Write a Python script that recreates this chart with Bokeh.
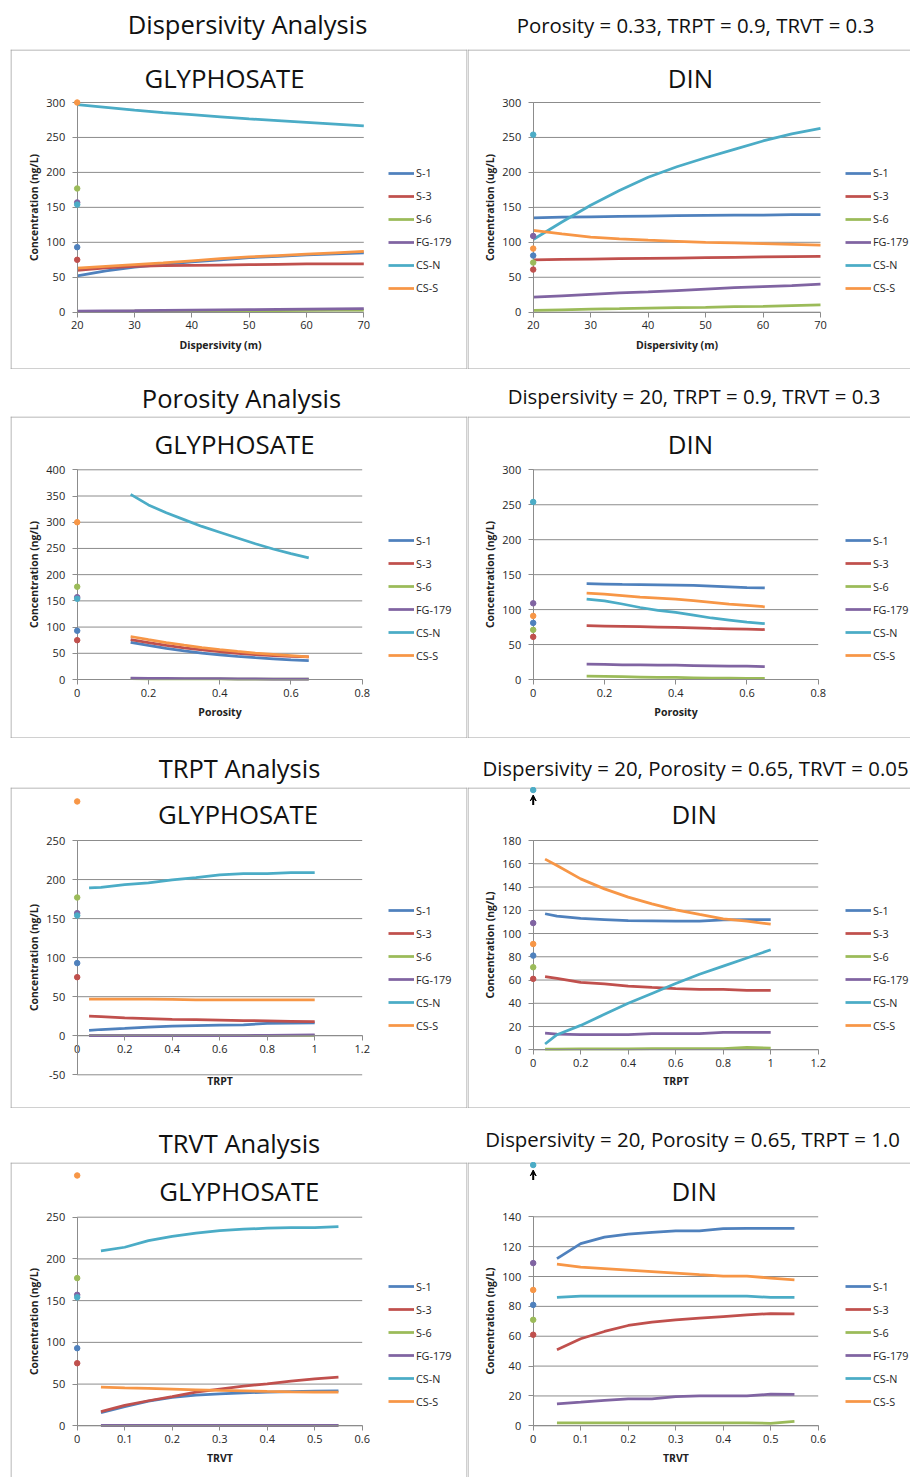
from bokeh.plotting import figure
from bokeh.models import (FixedTicker, Legend, LegendItem, Arrow, VeeHead, Range1d)
from bokeh.layouts import column, row
from bokeh.embed import file_html
from bokeh.resources import INLINE
from bokeh.core.properties import value

# ---------------------------------------------------------------- data
SERIES = ["S-1", "S-3", "S-6", "FG-179", "CS-N", "CS-S"]
COLORS = ["#4F81BD", "#C0504D", "#9BBB59", "#8064A2", "#4BACC6", "#F79646"]

OBS_GLY = [93, 75, 177, 157, 154, 300]
OBS_DIN = [81, 61, 71, 109, 254, 91]

DISP_X = [20, 25, 30, 35, 40, 45, 50, 55, 60, 65, 70]
DISP_GLY = [
    [52, 59, 64.5, 68.5, 72, 75, 78, 80, 82, 83.5, 85],
    [60, 63.5, 65.5, 66.5, 67, 67.5, 68, 68.5, 69, 69, 69],
    [1, 1.2, 1.4, 1.6, 1.8, 2, 2.2, 2.4, 2.6, 2.8, 3],
    [1.5, 1.8, 2.1, 2.5, 2.9, 3.3, 3.7, 4.1, 4.5, 4.8, 5],
    [297, 293, 289, 285.5, 282.5, 279.5, 276.5, 274, 271.5, 269, 266.5],
    [63, 65.5, 68, 70.5, 73.5, 76.5, 79, 81, 83, 85, 87],
]
DISP_DIN = [
    [135, 136, 136.5, 137, 137.5, 138, 138.5, 139, 139, 139.5, 139.5],
    [75, 75.5, 76, 76.5, 77, 77.5, 78, 78.5, 79, 79.5, 80],
    [2.5, 3.5, 4.5, 5, 6, 6.5, 7, 8, 8.5, 9.5, 10.5],
    [21.5, 23.5, 25.5, 27.5, 29, 31, 33, 35, 36.5, 38, 40],
    [104, 129, 153, 174, 193, 208, 221, 233, 245, 255, 263],
    [117, 112, 107.5, 105, 103, 101.5, 100, 99, 98, 97, 96],
]

POR_X = [0.15, 0.2, 0.25, 0.3, 0.35, 0.4, 0.45, 0.5, 0.55, 0.6, 0.65]
POR_GLY = [
    [71, 65, 59.5, 54.5, 50.5, 47, 44, 41.5, 39.5, 37.5, 36],
    [76, 70.5, 65, 60.5, 56.5, 53, 50, 47.5, 45.5, 44, 43],
    [1.5, 1.4, 1.3, 1.2, 1.1, 1, 0.9, 0.8, 0.7, 0.6, 0.5],
    [2.5, 2.3, 2.1, 1.9, 1.7, 1.5, 1.3, 1.1, 0.9, 0.7, 0.5],
    [353, 333, 318, 305, 292, 281, 270, 259, 249, 240, 232],
    [82, 76, 70.5, 65.5, 61, 57, 53.5, 50.5, 48, 45.5, 43],
]
POR_DIN = [
    [137, 136.5, 136, 135.8, 135.5, 135, 134.5, 133.5, 132.5, 131.5, 131],
    [77, 76.5, 76, 75.5, 75, 74.5, 74, 73, 72.5, 72, 71.5],
    [5, 4.5, 4, 3.5, 3, 3, 2.5, 2, 2, 1.5, 1.5],
    [22, 21.5, 21, 21, 20.5, 20.5, 20, 19.5, 19, 19, 18.5],
    [115, 112.5, 108, 103, 99, 96, 92, 88, 85, 82, 80],
    [123.5, 122, 120, 118, 116.5, 115, 113, 110.5, 108, 106, 104],
]

TRPT_X = [0.05, 0.1, 0.2, 0.3, 0.4, 0.5, 0.6, 0.7, 0.8, 0.9, 1.0]
TRPT_GLY = [
    [7, 8, 9.4, 11, 12.4, 13, 13.6, 14, 15.8, 16.2, 16.6],
    [25, 24.5, 23, 22, 21, 20.5, 20, 19.5, 19, 18.5, 18],
    [0.2, 0.2, 0.2, 0.2, 0.2, 0.2, 0.2, 0.2, 0.3, 0.4, 0.5],
    [0.2, 0.2, 0.2, 0.2, 0.2, 0.2, 0.2, 0.3, 0.5, 0.8, 1],
    [189.4, 190, 193.5, 195.6, 199.6, 202.5, 206, 207.7, 207.7, 209, 209],
    [47, 47, 47, 47, 46.5, 46, 46, 46, 46, 46, 46],
]
TRPT_DIN = [
    [117, 115, 113, 112, 111, 110.8, 110.6, 110.6, 111.8, 112, 112],
    [63, 61.5, 58, 56.7, 54.7, 53.6, 52.7, 52, 52, 51, 51],
    [0.6, 0.6, 0.7, 0.8, 0.9, 1, 1, 1, 1, 2, 1.5],
    [14.3, 13.5, 13, 13, 13, 14, 14, 14, 15, 15, 15],
    [5, 13, 21, 30.5, 40, 48.5, 57, 65, 72, 79, 86],
    [164, 158.5, 147, 138.4, 131.3, 125.5, 120.4, 116.4, 112.6, 110.6, 108],
]

TRVT_X = [0.05, 0.1, 0.15, 0.2, 0.25, 0.3, 0.35, 0.4, 0.45, 0.5, 0.55]
TRVT_GLY = [
    [15.6, 23, 29.5, 34, 36.7, 38.3, 39.5, 40.3, 41, 41.5, 42],
    [17, 24.4, 30, 35, 40.3, 44, 47.5, 50.3, 53.5, 56.3, 58.3],
    [0.3, 0.3, 0.3, 0.3, 0.3, 0.3, 0.3, 0.3, 0.3, 0.3, 0.3],
    [0.5, 0.5, 0.5, 0.5, 0.5, 0.5, 0.5, 0.5, 0.5, 0.5, 0.5],
    [209.7, 214, 222, 227, 231, 234, 235.6, 236.8, 237.6, 237.6, 238.8],
    [46.3, 45.4, 44.8, 44, 43.2, 42.4, 41.8, 41.2, 40.8, 40.5, 40.3],
]
TRVT_DIN = [
    [112, 122, 126.4, 128.4, 129.5, 130.6, 130.6, 132, 132.2, 132.2, 132.2],
    [51, 58.3, 63.2, 67.2, 69.4, 71, 72.1, 73.2, 74.3, 75.2, 75],
    [2, 2, 2, 2, 2, 2, 2, 2, 2, 1.6, 2.9],
    [14.7, 15.8, 17, 18, 18, 19.6, 20, 20, 20, 21.2, 21],
    [86, 86.8, 86.8, 86.8, 86.8, 86.8, 86.8, 86.8, 86.8, 86, 86],
    [108.3, 106.3, 105.3, 104.3, 103.3, 102.3, 101.2, 100.2, 100.2, 99, 97.8],
]

DISP_XTICKS = [20, 30, 40, 50, 60, 70]
POR_XTICKS = [0, 0.2, 0.4, 0.6, 0.8]
TRPT_XTICKS = [0, 0.2, 0.4, 0.6, 0.8, 1, 1.2]
TRVT_XTICKS = [0, 0.1, 0.2, 0.3, 0.4, 0.5, 0.6]

YTICKS_0_300 = [0, 50, 100, 150, 200, 250, 300]
YTICKS_0_400 = [0, 50, 100, 150, 200, 250, 300, 350, 400]
YTICKS_M50_250 = [-50, 0, 50, 100, 150, 200, 250]
YTICKS_0_180 = [0, 20, 40, 60, 80, 100, 120, 140, 160, 180]
YTICKS_0_250 = [0, 50, 100, 150, 200, 250]
YTICKS_0_140 = [0, 20, 40, 60, 80, 100, 120, 140]

HEADERS_LEFT = ["Dispersivity Analysis", "Porosity Analysis", "TRPT Analysis", "TRVT Analysis"]
HEADERS_RIGHT = ["Porosity = 0.33, TRPT = 0.9, TRVT = 0.3",
                 "Dispersivity = 20, TRPT = 0.9, TRVT = 0.3",
                 "Dispersivity = 20, Porosity = 0.65, TRVT = 0.05",
                 "Dispersivity = 20, Porosity = 0.65, TRPT = 1.0"]
X_LABELS = ["Dispersivity (m)", "Porosity", "TRPT", "TRVT"]
Y_LABEL_NG = "Concentration (ng/L)"
Y_LABEL_UG = "Concentration (ug/L)"

# ---------------------------------------------------------------- layout
HEADER_H = [49, 47, 49, 54]
PANEL_H = [320, 322, 321, 315]
X_LEFT, X_MID, X_RIGHT = 0, 467, 910

HDR_L_POS = [(247, 23.5), (241, 397), (239, 767), (239, 1142)]
HDR_R_POS = [(695, 24), (693.5, 395), (695, 767), (692, 1138)]

# (X0, X1, Y0, YT, title_x, title_y, legend_first_y, legend_x, xlabel_offset)
GEO_L = [(76.7, 363.3, 311.7, 102, 224, 77, 172.7, 388, 36.3),
         (76.7, 361.7, 679, 469.3, 234, 443.3, 540, 388, 36),
         (76.7, 361.7, 1074.3, 840, 237.5, 813.3, 910, 388, 49.7),
         (76.7, 361.7, 1425.3, 1216.7, 238.8, 1190, 1286, 388, 36.4)]
GEO_R = [(532.7, 820, 311.7, 102, 690, 77, 172.7, 845, 36.3),
         (532.7, 817.7, 679, 469.3, 690, 443.3, 540, 845, 36),
         (532.7, 817.7, 1049.3, 840, 693.7, 813.3, 910, 845, 35.7),
         (532.7, 817.7, 1425.3, 1216.3, 693.7, 1190, 1286, 845, 36.4)]

GRID = "#8c8c8c"
BOX = "#a0a0a0"
TXT = "#262626"
FONT = "Open Sans"


def fmt(t):
    return f"{t:g}"


def header_fig(left, top, w, h, text, pos, size):
    p = figure(width=w, height=h, x_range=Range1d(0, w), y_range=Range1d(0, h),
               x_axis_type=None, y_axis_type=None, toolbar_location=None,
               output_backend="svg", min_border=0, title=None)
    p.outline_line_color = None
    p.xgrid.visible = False
    p.ygrid.visible = False
    p.text(x=[pos[0] - left], y=[h - (pos[1] - top)], text=[text],
           text_align="center", text_baseline="middle",
           text_font=value(FONT), text_font_size=value(size), text_color="#111111")
    return p


def make_panel(left, top, w, h, geo, xs, ys_list, obs, xticks, yticks,
               xlabel, ylabel, title, border_left, sides):
    X0, X1, Y0, YT, TX, TY, LY, LX, XLOFF = geo
    x0, x1 = xticks[0], xticks[-1]
    y0, yt = yticks[0], yticks[-1]
    sx = (X1 - X0) / (x1 - x0)
    sy = (Y0 - YT) / (yt - y0)
    fl, fr, ft, fb = left + border_left, left + w, top, top + h
    xa = x0 - (X0 - fl) / sx
    xb = x0 + (fr - X0) / sx
    ya = y0 - (fb - Y0) / sy
    yb = y0 + (Y0 - ft) / sy

    p = figure(width=w, height=h, x_range=Range1d(xa, xb), y_range=Range1d(ya, yb),
               toolbar_location=None, output_backend="svg", title=None,
               min_border_left=border_left, min_border_right=0,
               min_border_top=0, min_border_bottom=0)
    p.outline_line_color = None
    p.background_fill_color = "white"
    p.border_fill_color = "white"
    p.xgrid.visible = False
    p.ygrid.visible = False

    # chart-area box (sides that the reference shows)
    hx, hy = 0.5 / sx, 0.5 / sy
    edges = {"top": ([xa, xb], [yb - hy, yb - hy]),
             "bottom": ([xa, xb], [ya + hy, ya + hy]),
             "left": ([xa + hx, xa + hx], [ya, yb]),
             "right": ([xb - hx, xb - hx], [ya, yb])}
    bx = [edges[s][0] for s in sides]
    by = [edges[s][1] for s in sides]
    p.multi_line(xs=bx, ys=by, line_color=BOX, line_width=1, level="underlay")

    # horizontal gridlines at the y ticks, from the y axis to the end of the x axis
    p.segment(x0=[x0] * len(yticks), y0=yticks, x1=[x1] * len(yticks), y1=yticks,
              line_color=GRID, line_width=1, level="underlay")

    # x axis
    ax = p.xaxis[0]
    ax.fixed_location = 0
    ax.ticker = FixedTicker(ticks=xticks)
    ax.major_label_overrides = {t: fmt(t) for t in xticks}
    ax.bounds = (x0, x1)
    ax.axis_line_color = GRID
    ax.major_tick_line_color = GRID
    ax.major_tick_out = 5
    ax.major_tick_in = 0
    ax.minor_tick_line_color = None
    ax.major_label_standoff = 4
    ax.major_label_text_font = FONT
    ax.major_label_text_font_size = "11px"
    ax.major_label_text_color = TXT
    ax.axis_label = xlabel
    ax.axis_label_text_font = FONT
    ax.axis_label_text_font_style = "bold"
    ax.axis_label_text_font_size = "10.5px"
    ax.axis_label_text_color = "#222222"
    ax.axis_label_standoff = int(round(5 + (XLOFF - 36.3)))

    # y axis
    ay = p.yaxis[0]
    ay.fixed_location = x0
    ay.ticker = FixedTicker(ticks=yticks)
    ay.major_label_overrides = {t: fmt(t) for t in yticks}
    ay.bounds = (y0, yt)
    ay.axis_line_color = GRID
    ay.major_tick_line_color = GRID
    ay.major_tick_out = 5
    ay.major_tick_in = 0
    ay.minor_tick_line_color = None
    ay.major_label_standoff = 7
    ay.major_label_text_font = FONT
    ay.major_label_text_font_size = "11px"
    ay.major_label_text_color = TXT
    ay.axis_label = ylabel
    ay.axis_label_text_font = FONT
    ay.axis_label_text_font_style = "bold"
    ay.axis_label_text_font_size = "10.4px"
    ay.axis_label_text_color = "#222222"
    ay.axis_label_standoff = 3

    # series lines
    items = []
    for name, color, ys in zip(SERIES, COLORS, ys_list):
        r = p.line(xs, ys, line_width=2.75, line_color=color)
        items.append(LegendItem(label=name, renderers=[r]))

    # observed values on the y axis (off-scale values pinned to the top edge)
    ytop_shown = yb - 2.5 / sy
    shown = [min(v, ytop_shown) for v in obs]
    p.scatter(x=[x0] * len(obs), y=shown, size=5.5, color=COLORS, line_color=COLORS,
              level="overlay")
    for v, s in zip(obs, shown):
        if v > s:
            p.add_layout(Arrow(x_start=x0, y_start=s - 15 / sy, x_end=x0, y_end=s - 5 / sy,
                               line_width=2, line_color="black",
                               end=VeeHead(size=6, fill_color="black", line_color="black")))

    # chart title
    p.text(x=[xa + (TX - fl) / sx], y=[ya + (fb - TY) / sy], text=[title],
           text_align="center", text_baseline="middle",
           text_font=value(FONT), text_font_size=value("25.8px"), text_color="#111111")

    # legend, positioned relative to the frame's bottom-left corner
    leg_top = LY - 10
    leg_bottom = leg_top + 6 * 20 + 5 * 3
    legend = Legend(items=items, location=(LX - fl, fb - leg_bottom),
                    orientation="vertical", glyph_width=26, glyph_height=20,
                    label_height=20, label_standoff=2, spacing=3, padding=0, margin=0,
                    border_line_color=None, background_fill_alpha=0,
                    label_text_font=FONT, label_text_font_size="10.8px",
                    label_text_color=TXT)
    p.add_layout(legend)
    return p


PANELS = [
    (DISP_X, DISP_GLY, DISP_DIN, DISP_XTICKS, YTICKS_0_300, YTICKS_0_300, Y_LABEL_NG, Y_LABEL_UG),
    (POR_X, POR_GLY, POR_DIN, POR_XTICKS, YTICKS_0_400, YTICKS_0_300, Y_LABEL_NG, Y_LABEL_NG),
    (TRPT_X, TRPT_GLY, TRPT_DIN, TRPT_XTICKS, YTICKS_M50_250, YTICKS_0_180, Y_LABEL_NG, Y_LABEL_NG),
    (TRVT_X, TRVT_GLY, TRVT_DIN, TRVT_XTICKS, YTICKS_0_250, YTICKS_0_140, Y_LABEL_NG, Y_LABEL_NG),
]

rows = []
y = 0
wl, wr = X_MID - X_LEFT, X_RIGHT - X_MID
for r in range(4):
    hh = HEADER_H[r]
    rows.append(row(header_fig(X_LEFT, y, wl, hh, HEADERS_LEFT[r], HDR_L_POS[r], "25.5px"),
                    header_fig(X_MID, y, wr, hh, HEADERS_RIGHT[r], HDR_R_POS[r], "20.4px")))
    y += hh
    xs, gly, din, xt, ytg, ytd, ylg, yld = PANELS[r]
    ph = PANEL_H[r]
    last = r == 3
    sides_l = ["top", "left", "right"] + ([] if last else ["bottom"])
    sides_r = ["top", "left"] + ([] if last else ["bottom"])
    pl = make_panel(X_LEFT, y, wl, ph, GEO_L[r], xs, gly, OBS_GLY, xt, ytg,
                    X_LABELS[r], ylg, "GLYPHOSATE", 10, sides_l)
    pr = make_panel(X_MID, y, wr, ph, GEO_R[r], xs, din, OBS_DIN, xt, ytd,
                    X_LABELS[r], yld, "DIN", 0, sides_r)
    rows.append(row(pl, pr))
    y += ph

layout = column(*rows)
open("out.html", "w").write(file_html(layout, INLINE))
